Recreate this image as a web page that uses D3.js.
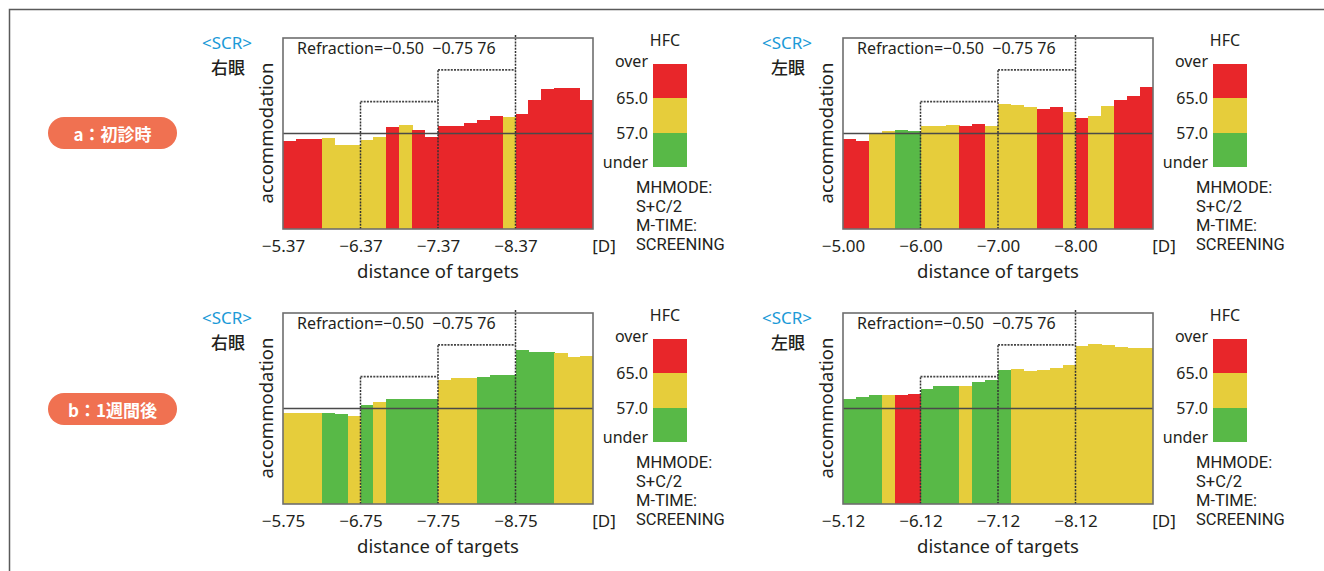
<!DOCTYPE html>
<html>
<head>
<meta charset="utf-8">
<script src="https://cdn.jsdelivr.net/npm/d3@7/dist/d3.min.js"></script>
<style>
  html, body { margin: 0; padding: 0; background: #fff; }
  svg { display: block; font-family: "Noto Sans", "Noto Sans CJK JP", sans-serif; }
</style>
</head>
<body>
<svg id="chart" width="1324" height="571"></svg>
<script>
// ---------- DATA ----------
const barIndex = d3.range(24);               // 24 measurement columns per panel (6 per 1 D step)
const idealLevels = [3, 4, 5, 6];            // stepped target demand (accommodation scale 0..6)
const baseLevel = 3;                          // horizontal reference line

const ticksA_R = ["\u22125.37", "\u22126.37", "\u22127.37", "\u22128.37"];
const ticksA_L = ["\u22125.00", "\u22126.00", "\u22127.00", "\u22128.00"];
const ticksB_R = ["\u22125.75", "\u22126.75", "\u22127.75", "\u22128.75"];
const ticksB_L = ["\u22125.12", "\u22126.12", "\u22127.12", "\u22128.12"];

const valuesA_R = [2.77, 2.83, 2.83, 2.86, 2.65, 2.65, 2.81, 2.89, 3.19, 3.28, 3.10, 2.89,
                   3.23, 3.23, 3.33, 3.43, 3.54, 3.52, 3.61, 4.04, 4.40, 4.43, 4.43, 4.04];
const colorsA_R = "RRRYYYYYRYRRRRRRRYRRRRRR".split("");

const valuesA_L = [2.84, 2.77, 2.99, 3.07, 3.10, 3.07, 3.23, 3.25, 3.26, 3.23, 3.30, 3.25,
                   3.94, 3.91, 3.83, 3.78, 3.82, 3.68, 3.49, 3.56, 3.85, 4.06, 4.19, 4.46];
const colorsA_L = "RRYYGGYYYRRYYYYRRYRYYRRR".split("");

const valuesB_R = [2.87, 2.87, 2.85, 2.87, 2.84, 2.75, 3.10, 3.21, 3.29, 3.31, 3.29, 3.29,
                   3.91, 3.96, 3.96, 3.99, 4.06, 4.06, 4.84, 4.79, 4.79, 4.74, 4.63, 4.66];
const colorsB_R = "YYYGGYGYGGGGYYYGGGGGGYYY".split("");

const valuesB_L = [3.31, 3.37, 3.41, 3.41, 3.41, 3.47, 3.62, 3.70, 3.70, 3.72, 3.83, 3.89,
                   4.22, 4.24, 4.17, 4.22, 4.27, 4.37, 4.96, 5.03, 4.99, 4.94, 4.89, 4.89];
const colorsB_L = "GGGYRRGGGYGGGYYYYYYYYYYY".split("");

const legendLabels = ["over", "65.0", "57.0", "under"];
const infoLines = ["MHMODE:", "S+C/2", "M-TIME:", "SCREENING"];
const refractionText = "Refraction=\u22120.50  \u22120.75 76";
const stageLabels = ["a\uff1a初診時", "b\uff1a1週間後"];

// ---------- STYLE / LAYOUT ----------
const colorMap = { R: "#e8262a", Y: "#e6cd3b", G: "#58b947" };
const textColor = "#231f20";
const svg = d3.select("#chart");

// outer frame (left + top)
svg.append("path")
  .attr("d", "M9.5,571 V9.5 H1324")
  .attr("fill", "none").attr("stroke", "#5a5a5a").attr("stroke-width", 1.5);

// stage pills
[117, 393].forEach((py, i) => {
  const g = svg.append("g").attr("transform", `translate(48,${py})`);
  g.append("rect").attr("width", 129).attr("height", 32).attr("rx", 16).attr("fill", "#f07151");
  g.append("text").attr("x", 64.5).attr("y", 16.5)
    .attr("text-anchor", "middle").attr("dominant-baseline", "central")
    .attr("fill", "#fff").attr("font-size", 17).attr("font-weight", 700)
    .attr("font-family", "'Noto Sans CJK JP', 'Noto Sans', sans-serif")
    .text(stageLabels[i]);
});

const panels = [
  { left: 283, top: 38,  eye: "右眼", ticks: ticksA_R, values: valuesA_R, colors: colorsA_R },
  { left: 843, top: 38,  eye: "左眼", ticks: ticksA_L, values: valuesA_L, colors: colorsA_L },
  { left: 283, top: 313, eye: "右眼", ticks: ticksB_R, values: valuesB_R, colors: colorsB_R },
  { left: 843, top: 313, eye: "左眼", ticks: ticksB_L, values: valuesB_L, colors: colorsB_L }
];

const W = 310, H = 191;

panels.forEach(p => {
  const g = svg.append("g").attr("transform", `translate(${p.left},${p.top})`);
  const x = d3.scaleBand().domain(barIndex).range([0, W]).padding(0);
  const xd = d3.scaleLinear().domain([0, 4]).range([0, W]);
  const y = d3.scaleLinear().domain([0, 6]).range([H, 0]);

  // bars
  g.append("g").attr("shape-rendering", "crispEdges")
    .selectAll("rect").data(barIndex).join("rect")
    .attr("x", i => x(i))
    .attr("width", x.bandwidth() + 0.4)
    .attr("y", i => y(p.values[i]))
    .attr("height", i => H - y(p.values[i]))
    .attr("fill", i => colorMap[p.colors[i]]);

  // dotted ideal step line + verticals
  const steps = idealLevels.map((lv, k) => ({ k, lv }));
  steps.slice(1).forEach(s => {
    g.append("line")
      .attr("x1", xd(s.k)).attr("x2", xd(s.k))
      .attr("y1", H).attr("y2", s.k === 3 ? y(s.lv) - 3 : y(s.lv))
      .attr("stroke", "#333").attr("stroke-width", 1.5).attr("stroke-dasharray", "2,1.2");
    if (s.k < 3) {
      g.append("line")
        .attr("x1", xd(s.k)).attr("x2", xd(s.k + 1))
        .attr("y1", y(s.lv)).attr("y2", y(s.lv))
        .attr("stroke", "#444").attr("stroke-width", 1.6).attr("stroke-dasharray", "2,1.2");
    }
  });

  // reference solid line
  g.append("line")
    .attr("x1", 0).attr("x2", W)
    .attr("y1", y(baseLevel)).attr("y2", y(baseLevel))
    .attr("stroke", "#4a4a4a").attr("stroke-width", 1.5);

  // frame
  g.append("rect").attr("x", 0).attr("y", 0).attr("width", W).attr("height", H)
    .attr("fill", "none").attr("stroke", "#6e6e6e").attr("stroke-width", 1.6);

  // refraction text
  g.append("text").attr("x", 14).attr("y", 10)
    .attr("dominant-baseline", "central").attr("font-size", 16)
    .attr("fill", textColor)
    .style("white-space", "pre")
    .text(refractionText);

  // x axis tick labels
  const ax = g.append("g").attr("transform", `translate(0,${H})`)
    .call(d3.axisBottom(xd).tickValues([0, 1, 2, 3]).tickSize(0).tickPadding(0)
      .tickFormat((d, i) => p.ticks[i]));
  ax.select(".domain").remove();
  ax.selectAll("text")
    .attr("y", 16).attr("dy", null).attr("dominant-baseline", "central")
    .attr("font-size", 17).attr("fill", textColor)
    .attr("font-family", "'Noto Sans', sans-serif");

  g.append("text").attr("x", 321).attr("y", H + 16)
    .attr("text-anchor", "middle").attr("dominant-baseline", "central")
    .attr("font-size", 17).attr("fill", textColor).text("[D]");

  // axis titles
  g.append("text").attr("x", W / 2).attr("y", H + 41)
    .attr("text-anchor", "middle").attr("dominant-baseline", "central")
    .attr("font-size", 18.5).attr("fill", textColor).text("distance of targets");

  g.append("text")
    .attr("transform", `translate(-18,${95}) rotate(-90)`)
    .attr("text-anchor", "middle").attr("dominant-baseline", "central")
    .attr("font-size", 18.5).attr("fill", textColor).text("accommodation");

  // <SCR> and eye label
  g.append("text").attr("x", -56).attr("y", 4)
    .attr("text-anchor", "middle").attr("dominant-baseline", "central")
    .attr("font-size", 17).attr("fill", "#1b9ad7").text("<SCR>");
  g.append("text").attr("x", -55).attr("y", 28)
    .attr("text-anchor", "middle").attr("dominant-baseline", "central")
    .attr("font-size", 17).attr("font-weight", 500).attr("fill", textColor)
    .attr("font-family", "'Noto Sans CJK JP', sans-serif")
    .text(p.eye);

  // HFC legend
  const lg = g.append("g").attr("transform", "translate(370,26)");
  const legendColors = ["R", "Y", "G"];
  const ly = d3.scaleBand().domain(legendColors).range([0, 103]);
  lg.selectAll("rect").data(legendColors).join("rect")
    .attr("x", 0).attr("y", d => ly(d)).attr("width", 34).attr("height", ly.bandwidth() + 0.3)
    .attr("fill", d => colorMap[d]).attr("shape-rendering", "crispEdges");
  g.append("text").attr("x", 382).attr("y", 2)
    .attr("text-anchor", "middle").attr("dominant-baseline", "central")
    .attr("font-size", 16).attr("fill", textColor).text("HFC");
  const lblY = [23, 60, 95, 124];
  legendLabels.forEach((t, i) => {
    g.append("text").attr("x", 365).attr("y", lblY[i])
      .attr("text-anchor", "end").attr("dominant-baseline", "central")
      .attr("font-size", 16).attr("fill", textColor).text(t);
  });
  infoLines.forEach((t, i) => {
    g.append("text").attr("x", 353).attr("y", 149 + i * 19)
      .attr("dominant-baseline", "central")
      .attr("font-family", "Roboto, 'Noto Sans', sans-serif")
      .attr("font-size", 16.5).attr("fill", textColor).text(t);
  });
});
</script>
</body>
</html>
